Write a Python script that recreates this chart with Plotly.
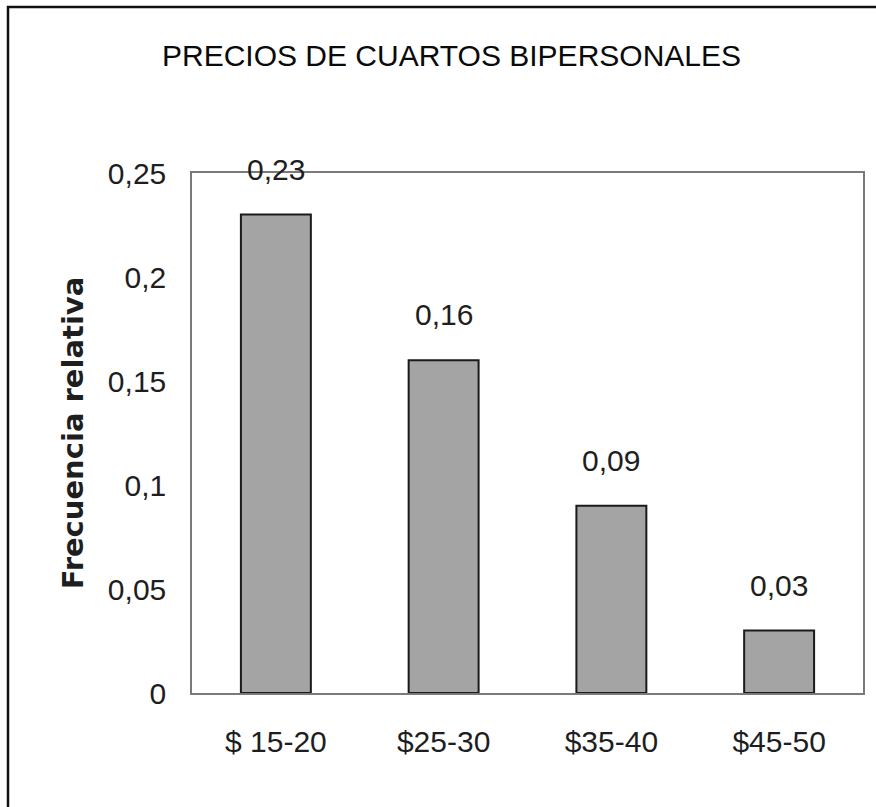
import plotly.graph_objects as go

categories = ["$ 15-20", "$25-30", "$35-40", "$45-50"]
values = [0.23, 0.16, 0.09, 0.03]
label_texts = ["0,23", "0,16", "0,09", "0,03"]
y_ticks = [0, 0.05, 0.1, 0.15, 0.2, 0.25]

W, H = 876, 807
L, R, T, B = 192, 13, 173, 114
pw, ph = W - L - R, H - T - B

font_fam = "Liberation Sans, Arial, sans-serif"
txt = "#1e1e1e"

fig = go.Figure()
fig.add_trace(go.Bar(
    x=categories, y=values,
    marker=dict(color="#a4a4a4", line=dict(color="#1a1a1a", width=2)),
    width=0.417,
    hoverinfo="skip",
))

for c, v, t in zip(categories, values, label_texts):
    fig.add_annotation(x=c, y=v, text=t, showarrow=False, xref="x", yref="y",
                       yanchor="bottom", yshift=27,
                       font=dict(family=font_fam, size=30, color=txt))

# outer chart frame
def px_x(p):
    return (p - L) / pw

def px_y(p):
    return (H - B - p) / ph

fig.add_shape(type="rect", xref="paper", yref="paper",
              x0=px_x(8), x1=px_x(885), y0=px_y(812), y1=px_y(7),
              line=dict(color="#111111", width=2.5), fillcolor="rgba(0,0,0,0)",
              layer="below")

fig.update_layout(
    width=W, height=H,
    margin=dict(l=L, r=R, t=T, b=B, pad=0),
    paper_bgcolor="white", plot_bgcolor="white",
    separators=", ",
    showlegend=False,
    title=dict(text="PRECIOS DE CUARTOS BIPERSONALES", x=(163 + 740) / 2 / W, xanchor="center",
               y=1 - 55 / H, yanchor="middle",
               font=dict(family=font_fam, size=30, color="#0a0a0a")),
    xaxis=dict(showline=True, linecolor="#7a7a7a", linewidth=1.5, mirror=True,
               showgrid=False, ticks="", ticklabelstandoff=21,
               tickfont=dict(family=font_fam, size=30, color=txt)),
    yaxis=dict(range=[0, 0.25], tickvals=y_ticks, showline=True, linecolor="#7a7a7a",
               linewidth=1.5, mirror=True, showgrid=False, zeroline=False,
               ticks="", ticklabelstandoff=18,
               tickfont=dict(family=font_fam, size=30, color=txt),
               title=dict(text="<b>Frecuencia relativa</b>", standoff=16,
                          font=dict(family="DejaVu Sans, sans-serif", size=29, color=txt))),
)

fig.write_html("out.html")
